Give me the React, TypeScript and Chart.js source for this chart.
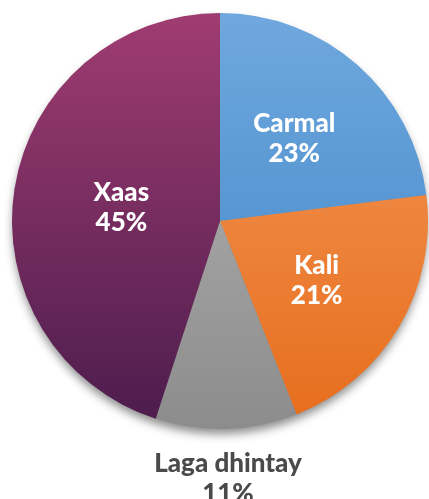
import React, { useEffect, useRef } from "react";
import { Chart, registerables } from "chart.js";

Chart.register(...registerables);

const categories = ["Carmal", "Kali", "Laga dhintay", "Xaas"];
const values = [23, 21, 11, 45];
const percentLabels = ["23%", "21%", "11%", "45%"];
const topColors = ["#6fa8de", "#f39a5c", "#b8b8b8", "#a03c72"];
const bottomColors = ["#3e84c6", "#e76d1c", "#8c8c8c", "#4b1c4c"];
const labelColors = ["#ffffff", "#ffffff", "#4a4a4a", "#ffffff"];
const labelRadius = [0.54, 0.54, 1.23, 0.48];

const FONT = "Lato, 'Open Sans', sans-serif";

const shadowPlugin = {
  id: "pieShadow",
  beforeDatasetsDraw(chart: any) {
    const meta = chart.getDatasetMeta(0);
    const arc = meta.data[0];
    if (!arc) return;
    const { x, y, outerRadius } = arc.getProps(["x", "y", "outerRadius"], true);
    const ctx = chart.ctx;
    ctx.save();
    ctx.shadowColor = "rgba(0,0,0,0.45)";
    ctx.shadowBlur = 10;
    ctx.shadowOffsetY = 6;
    ctx.fillStyle = "#888";
    ctx.beginPath();
    ctx.arc(x, y, outerRadius - 1, 0, Math.PI * 2);
    ctx.fill();
    ctx.restore();
  },
};

const labelPlugin = {
  id: "pieLabels",
  afterDatasetsDraw(chart: any) {
    const meta = chart.getDatasetMeta(0);
    const ctx = chart.ctx;
    ctx.save();
    ctx.textAlign = "center";
    ctx.textBaseline = "middle";
    meta.data.forEach((arc: any, i: number) => {
      const { x, y, startAngle, endAngle, outerRadius } = arc.getProps(
        ["x", "y", "startAngle", "endAngle", "outerRadius"],
        true
      );
      const mid = (startAngle + endAngle) / 2;
      const r = outerRadius * labelRadius[i];
      const cx = x + Math.cos(mid) * r;
      const cy = y + Math.sin(mid) * r + 2;
      ctx.fillStyle = labelColors[i];
      ctx.font = `900 26px ${FONT}`;
      ctx.fillText(categories[i], cx, cy - 15);
      ctx.fillText(percentLabels[i], cx, cy + 15);
    });
    ctx.restore();
  },
};

export default function App() {
  const ref = useRef<HTMLCanvasElement | null>(null);
  useEffect(() => {
    if (!ref.current) return;
    const grad = (c: any) => {
      const i = c.dataIndex ?? 0;
      const chart = c.chart;
      const area = chart.chartArea;
      if (!area) return topColors[i];
      const g = chart.ctx.createLinearGradient(0, area.top, 0, area.bottom);
      g.addColorStop(0, topColors[i]);
      g.addColorStop(1, bottomColors[i]);
      return g;
    };
    const chart = new Chart(ref.current, {
      type: "pie",
      data: {
        labels: categories,
        datasets: [
          {
            data: values,
            backgroundColor: grad as any,
            borderWidth: 0,
          },
        ],
      },
      options: {
        responsive: false,
        animation: false,
        layout: { padding: { left: 12, right: 1, top: 13, bottom: 70 } },
        plugins: {
          legend: { display: false },
          tooltip: { enabled: false },
        },
      },
      plugins: [shadowPlugin, labelPlugin],
    });
    return () => chart.destroy();
  }, []);
  return (
    <div style={{ position: "fixed", left: 0, top: 0, width: 429, height: 499, background: "#fff" }}>
      <canvas ref={ref} width={429} height={499} style={{ width: 429, height: 499 }} />
    </div>
  );
}
